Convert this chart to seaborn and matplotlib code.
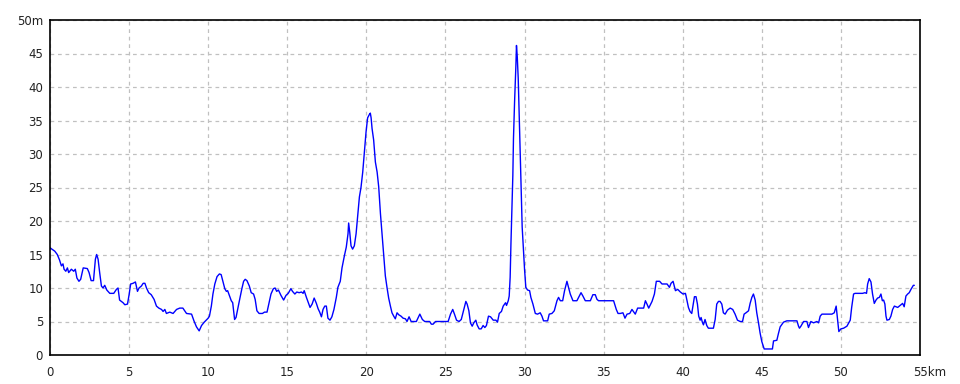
import matplotlib
matplotlib.use("Agg")
import matplotlib.pyplot as plt
import matplotlib.transforms as mtransforms
import seaborn as sns
import pandas as pd

distance_km = [
    0.0, 0.3, 0.46, 0.6, 0.72, 0.82, 0.89, 1.0, 1.1, 1.18, 1.35, 1.5, 1.6, 1.7, 1.83, 1.94,
    2.1, 2.36, 2.47, 2.6, 2.75, 2.87, 2.95, 3.04, 3.14, 3.25, 3.35, 3.46, 3.59, 3.78, 4.03,
    4.2, 4.3, 4.4, 4.62, 4.73, 4.9, 5.0, 5.1, 5.25, 5.4, 5.53, 5.63, 5.78, 5.89, 6.0, 6.1,
    6.24, 6.4, 6.58, 6.73, 6.88, 7.05, 7.15, 7.26, 7.36, 7.57, 7.78, 8.0, 8.2, 8.4, 8.63,
    8.95, 9.1, 9.26, 9.43, 9.58, 9.75, 10.0, 10.08, 10.2, 10.3, 10.42, 10.56, 10.71, 10.82,
    10.92, 11.05, 11.15, 11.23, 11.34, 11.46, 11.55, 11.67, 11.76, 11.86, 11.99, 12.13,
    12.24, 12.34, 12.45, 12.6, 12.72, 12.87, 12.97, 13.08, 13.22, 13.43, 13.56, 13.72,
    13.85, 13.97, 14.12, 14.23, 14.33, 14.44, 14.6, 14.77, 14.92, 15.06, 15.23, 15.33,
    15.48, 15.6, 15.75, 15.9, 16.0, 16.07, 16.21, 16.36, 16.44, 16.57, 16.7, 16.84, 16.95,
    17.05, 17.16, 17.26, 17.37, 17.47, 17.57, 17.7, 17.82, 17.95, 18.1, 18.2, 18.35, 18.46,
    18.61, 18.73, 18.84, 18.88, 18.95, 19.03, 19.13, 19.24, 19.35, 19.45, 19.56, 19.66,
    19.77, 19.87, 19.98, 20.08, 20.19, 20.25, 20.3, 20.36, 20.46, 20.57, 20.68, 20.78,
    20.89, 20.99, 21.1, 21.2, 21.31, 21.41, 21.52, 21.62, 21.73, 21.83, 21.94, 22.05,
    22.19, 22.32, 22.47, 22.57, 22.7, 22.83, 23.16, 23.38, 23.54, 23.69, 24.0, 24.11,
    24.22, 24.37, 25.17, 25.32, 25.46, 25.57, 25.7, 25.86, 26.0, 26.16, 26.29, 26.37,
    26.48, 26.58, 26.69, 26.79, 26.92, 27.0, 27.13, 27.26, 27.38, 27.49, 27.59, 27.72,
    27.85, 28.02, 28.19, 28.29, 28.4, 28.54, 28.65, 28.8, 28.86, 28.97, 29.03, 29.09,
    29.14, 29.2, 29.26, 29.3, 29.37, 29.45, 29.49, 29.54, 29.6, 29.68, 29.77, 29.85,
    29.94, 30.0, 30.08, 30.19, 30.32, 30.4, 30.53, 30.68, 30.82, 30.99, 31.1, 31.2,
    31.46, 31.56, 31.73, 31.88, 32.05, 32.15, 32.26, 32.41, 32.53, 32.68, 32.78, 32.89,
    33.06, 33.31, 33.46, 33.57, 33.69, 33.84, 34.16, 34.32, 34.47, 34.58, 34.68, 35.63,
    35.8, 35.91, 36.05, 36.22, 36.35, 36.48, 36.65, 36.79, 37.0, 37.15, 37.53, 37.64,
    37.74, 37.85, 38.06, 38.21, 38.33, 38.54, 38.69, 39.01, 39.16, 39.26, 39.39, 39.54,
    39.68, 39.85, 40.02, 40.17, 40.21, 40.36, 40.46, 40.57, 40.68, 40.74, 40.84, 40.93,
    41.01, 41.1, 41.16, 41.24, 41.31, 41.41, 41.52, 41.62, 41.94, 42.05, 42.15, 42.26,
    42.36, 42.47, 42.57, 42.68, 42.83, 43.0, 43.16, 43.31, 43.46, 43.63, 43.78, 43.88,
    44.0, 44.16, 44.26, 44.37, 44.47, 44.58, 44.68, 44.79, 44.89, 45.0, 45.15, 45.67,
    45.74, 45.95, 46.05, 46.16, 46.37, 46.58, 47.22, 47.32, 47.38, 47.47, 47.64, 47.85,
    47.95, 48.1, 48.27, 48.48, 48.59, 48.69, 48.8, 49.43, 49.58, 49.7, 49.75, 49.81,
    49.87, 50.0, 50.17, 50.38, 50.59, 50.68, 50.8, 50.89, 51.37, 51.52, 51.62, 51.69,
    51.79, 51.9, 52.0, 52.11, 52.22, 52.32, 52.43, 52.53, 52.62, 52.7, 52.78, 52.85,
    52.91, 53.06, 53.16, 53.27, 53.38, 53.59, 53.69, 53.8, 53.9, 54.0, 54.11, 54.22,
    54.32, 54.43, 54.58, 54.64,
]

elevation_m = [
    16, 15.5, 15, 14.2, 13.3, 13.6, 12.8, 12.5, 13, 12.3, 12.8, 12.5, 12.8, 11.5, 11, 11.3,
    13, 12.9, 12.3, 11.1, 11.1, 14.3, 15, 14.3, 12.3, 10.3, 10, 10.4, 9.7, 9.2, 9.2,
    9.8, 10, 8.2, 7.8, 7.5, 7.6, 9, 10.6, 10.7, 10.9, 9.5, 10, 10.3, 10.7, 10.7, 10,
    9.3, 9, 8.3, 7.3, 7, 6.8, 6.5, 6.8, 6.2, 6.4, 6.2, 6.8, 7, 7, 6.2,
    6.1, 5.1, 4.2, 3.6, 4.4, 4.9, 5.5, 5.8, 7.3, 9.1, 10.6, 11.7, 12.1, 12,
    11.1, 9.9, 9.5, 9.6, 8.9, 8.1, 7.8, 5.3, 5.6, 6.8, 8.3, 9.9,
    11, 11.3, 11.1, 10.3, 9.3, 9.1, 8.3, 6.6, 6.2, 6.2, 6.4, 6.4,
    7.8, 9.1, 9.9, 10, 9.5, 9.7, 8.9, 8.2, 8.9, 9.2, 9.9, 9.5,
    9.1, 9.4, 9.3, 9.4, 9.2, 9.6, 8.6, 7.6, 7.1, 7.6, 8.5, 7.7, 6.9,
    6.4, 5.7, 6.8, 7.3, 7.3, 5.5, 5.2, 5.7, 6.8, 8.6, 10.1, 11, 13,
    14.8, 16.1, 18.1, 19.7, 18.3, 16.3, 15.8, 16.3, 18.1, 20.8, 23.6, 25,
    27.3, 30.1, 33.3, 35.4, 35.9, 36.1, 35.4, 33.8, 32.1, 28.8, 27.3, 25.1,
    21.1, 18.1, 15, 11.8, 10, 8.5, 7.3, 6.3, 5.8, 5.4, 6.3, 6.0,
    5.8, 5.5, 5.4, 5.0, 5.7, 5.0, 5, 6.1, 5.3, 5, 5, 4.6,
    4.6, 5, 5, 6.1, 6.8, 6.1, 5.2, 5, 5.3, 6.8, 8, 7.6,
    6.6, 4.8, 4.3, 4.8, 5.2, 4.5, 3.9, 3.9, 4.4, 4.1, 4.4, 5.8,
    5.7, 5.2, 5.2, 4.9, 6.2, 6.5, 7.3, 7.8, 7.4, 8.1, 8.8, 11.6,
    16.6, 21.6, 26.8, 32.3, 37.8, 43, 46.2, 44.5, 41.3, 34.3, 26.8, 19.1,
    15.3, 12.8, 10.1, 9.7, 9.6, 8.6, 7.6, 6.2, 6.1, 6.3, 5.8, 5.1,
    5.1, 6.1, 6.2, 6.6, 8.1, 8.6, 8.1, 8.1, 9.6, 11, 10.1, 9.1,
    8.1, 8.1, 8.8, 9.3, 8.8, 8.1, 8.1, 9, 9, 8.3, 8.1, 8.1,
    6.8, 6.2, 6.2, 6.3, 5.5, 6.1, 6.2, 6.8, 6.1, 7, 7, 8.1,
    7.6, 7, 8, 9.1, 11, 11, 10.6, 10.6, 10.1, 10.7, 11, 9.6,
    9.8, 9.4, 9.1, 9.2, 8.8, 7.1, 6.5, 6.2, 7.8, 8.7, 8.7, 7.6,
    5.8, 5.2, 5.6, 4.9, 4.5, 5.3, 4.4, 4.0, 4.0, 5.3, 7.6, 8,
    8, 7.6, 6.3, 6.1, 6.7, 7, 6.8, 6.1, 5.2, 5, 5, 6.1,
    6.3, 6.6, 7.7, 8.6, 9.1, 8.2, 6.3, 4.8, 3.3, 2.0, 0.9, 0.9,
    2.1, 2.2, 3.2, 4.2, 4.9, 5.1, 5.1, 4.3, 4.0, 4.3, 5, 5,
    4.1, 5, 4.8, 5, 4.8, 5.8, 6.1, 6.1, 6.3, 7.3, 6.1, 4.8,
    3.5, 3.9, 4.0, 4.3, 5.2, 7.1, 9.1, 9.2, 9.2, 9.3, 9.2, 10.6,
    11.4, 10.9, 9.1, 7.7, 8.2, 8.5, 8.6, 9.1, 8.1, 8.2, 7.6, 5.8,
    5.2, 5.3, 5.8, 6.8, 7.3, 7.1, 7.3, 7.5, 7.7, 7.2, 8.8, 9.1,
    9.3, 9.8, 10.4, 10.4,
]

x_ticks = [0, 5, 10, 15, 20, 25, 30, 35, 40, 45, 50, 55]
x_tick_labels = ["0", "5", "10", "15", "20", "25", "30", "35", "40", "45", "50", "55km"]
y_ticks = [0, 5, 10, 15, 20, 25, 30, 35, 40, 45, 50]
y_tick_labels = ["0", "5", "10", "15", "20", "25", "30", "35", "40", "45", "50m"]

df = pd.DataFrame({"km": distance_km, "m": elevation_m})

sns.set_theme(style="white")
plt.rcParams["font.family"] = ["DejaVu Sans"]

fig = plt.figure(figsize=(9.6, 3.84), dpi=100)
ax = fig.add_axes([50 / 960, 1 - 355 / 384, 870 / 960, 335 / 384])

sns.lineplot(data=df, x="km", y="m", ax=ax, color="#0000ff", linewidth=1.0,
             sort=False, estimator=None)

ax.set_xlim(0, 55)
ax.set_ylim(0, 50)
ax.set_xticks(x_ticks)
ax.set_xticklabels(x_tick_labels)
ax.set_yticks(y_ticks)
ax.set_yticklabels(y_tick_labels)
ax.set_xlabel("")
ax.set_ylabel("")
ax.grid(True, color="#c0c0c0", linestyle=(0, (3, 3)), linewidth=0.9)
ax.set_axisbelow(True)
for s in ax.spines.values():
    s.set_color("black")
    s.set_linewidth(1.2)
ax.tick_params(axis="both", length=0, labelsize=8.5, colors="#222222")
ax.tick_params(axis="x", pad=8)
ax.tick_params(axis="y", pad=5)

lbl = ax.get_xticklabels()[-1]
lbl.set_horizontalalignment("left")
lbl.set_transform(lbl.get_transform() + mtransforms.ScaledTranslation(-7 / 100, 0, fig.dpi_scale_trans))

fig.savefig("out.png", dpi=100)
